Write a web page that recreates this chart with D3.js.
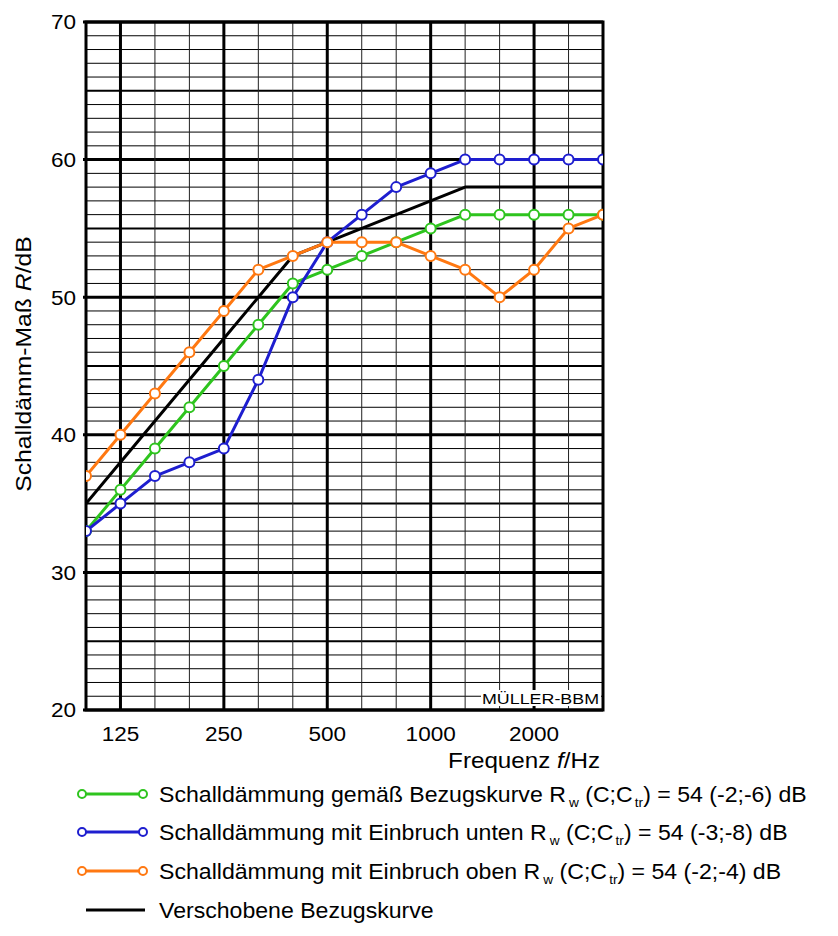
<!DOCTYPE html>
<html>
<head>
<meta charset="utf-8">
<script src="https://cdn.jsdelivr.net/npm/d3@7"></script>
<style>
  body { margin: 0; background: #fff; }
  svg { font-family: "Liberation Sans", Arial, sans-serif; }
</style>
</head>
<body>
<svg id="chart" width="838" height="936"></svg>
<script>
// third-octave band centre frequencies
var freqs = [100, 125, 160, 200, 250, 315, 400, 500, 630, 800, 1000, 1250, 1600, 2000, 2500, 3150];
var xTickLabels = [125, 250, 500, 1000, 2000];
var yTickLabels = [20, 30, 40, 50, 60, 70];

// Schalldämm-Maß in dB per band
var bezug   = [33, 36, 39, 42, 45, 48, 51, 52, 53, 54, 55, 56, 56, 56, 56, 56];
var unten   = [33, 35, 37, 38, 39, 44, 50, 54, 56, 58, 59, 60, 60, 60, 60, 60];
var oben    = [37, 40, 43, 46, 49, 52, 53, 54, 54, 54, 53, 52, 50, 52, 55, 56];
var verschoben = [35, 38, 41, 44, 47, 50, 53, 54, 55, 56, 57, 58, 58, 58, 58, 58];

var green = "#2ec41e", blue = "#1e1ecf", orange = "#ff7811";

var svg = d3.select("#chart");
var pLeft = 86, pRight = 603, pTop = 22, pBottom = 710;

var x = d3.scalePoint().domain(freqs).range([pLeft, pRight]).padding(0);
var y = d3.scaleLinear().domain([20, 70]).range([pBottom, pTop]);

svg.append("defs").append("clipPath").attr("id", "plotclip")
  .append("rect").attr("x", pLeft).attr("y", pTop)
  .attr("width", pRight - pLeft).attr("height", pBottom - pTop);

// grid
var grid = svg.append("g");
d3.range(20, 71).forEach(function(v) {
  var w = v % 10 == 0 ? 3 : (v % 5 == 0 ? 2 : 1);
  grid.append("line")
    .attr("x1", v % 10 == 0 ? pLeft - 3 : pLeft).attr("x2", pRight)
    .attr("y1", y(v)).attr("y2", y(v))
    .attr("stroke", "#000").attr("stroke-width", w);
});
freqs.forEach(function(f) {
  var thick = xTickLabels.indexOf(f) >= 0;
  grid.append("line")
    .attr("x1", x(f)).attr("x2", x(f))
    .attr("y1", pTop).attr("y2", pBottom)
    .attr("stroke", thick ? "#000" : "#222")
    .attr("stroke-width", thick ? 3 : 1);
});
grid.append("rect")
  .attr("x", pLeft).attr("y", pTop).attr("width", pRight - pLeft).attr("height", pBottom - pTop)
  .attr("fill", "none").attr("stroke", "#000").attr("stroke-width", 3);

// MÜLLER-BBM stamp
var stamp = svg.append("g");
stamp.append("rect").attr("x", 481).attr("y", 690).attr("width", 120).attr("height", 16).attr("fill", "#fff");
stamp.append("text").attr("x", 482).attr("y", 704)
  .attr("font-size", 14).attr("textLength", 117).attr("lengthAdjust", "spacingAndGlyphs")
  .text("MÜLLER-BBM");

// axis labels (reference lettering is slightly wide, hence the x-stretch)
svg.append("g").selectAll("text").data(yTickLabels).enter().append("text")
  .attr("transform", function(d) { return "translate(76," + y(d) + ") scale(1.1,1)"; })
  .attr("dy", "0.36em").attr("text-anchor", "end").attr("font-size", 20.5)
  .text(function(d) { return d; });

svg.append("g").selectAll("text").data(xTickLabels).enter().append("text")
  .attr("transform", function(d) { return "translate(" + x(d) + ",741) scale(1.1,1)"; })
  .attr("text-anchor", "middle").attr("font-size", 20.5)
  .text(function(d) { return d; });

var xl = svg.append("text").attr("transform", "translate(600,768) scale(1.1,1)")
  .attr("text-anchor", "end").attr("font-size", 22);
xl.append("tspan").text("Frequenz ");
xl.append("tspan").attr("font-style", "italic").text("f");
xl.append("tspan").text("/Hz");

var yl = svg.append("text").attr("transform", "translate(31,364) rotate(-90) scale(1.1,1)")
  .attr("text-anchor", "middle").attr("font-size", 22.5);
yl.append("tspan").text("Schalldämm-Maß ");
yl.append("tspan").attr("font-style", "italic").text("R");
yl.append("tspan").text("/dB");

// curves
var plot = svg.append("g").attr("clip-path", "url(#plotclip)");
var line = d3.line().x(function(d, i) { return x(freqs[i]); }).y(function(d) { return y(d); });

function drawSeries(vals, color, markers) {
  plot.append("path").datum(vals).attr("d", line)
    .attr("fill", "none").attr("stroke", color).attr("stroke-width", 3)
    .attr("stroke-linejoin", "round");
  if (markers) {
    plot.append("g").selectAll("circle").data(vals).enter().append("circle")
      .attr("cx", function(d, i) { return x(freqs[i]); })
      .attr("cy", function(d) { return y(d); })
      .attr("r", 5).attr("fill", "#fff").attr("stroke", color).attr("stroke-width", 2);
  }
}
drawSeries(verschoben, "#000", false);
drawSeries(bezug, green, true);
drawSeries(unten, blue, true);
drawSeries(oben, orange, true);

// legend
var legendItems = [
  {color: green, marker: true, pre: "Schalldämmung gemäß Bezugskurve R", post: ") = 54 (-2;-6) dB"},
  {color: blue, marker: true, pre: "Schalldämmung mit Einbruch unten R", post: ") = 54 (-3;-8) dB"},
  {color: orange, marker: true, pre: "Schalldämmung mit Einbruch oben R", post: ") = 54 (-2;-4) dB"},
  {color: "#000", marker: false, pre: "Verschobene Bezugskurve", post: null}
];
var legendY = [794, 832, 871, 910];
legendItems.forEach(function(it, i) {
  var g = svg.append("g").attr("transform", "translate(0," + legendY[i] + ")");
  g.append("line").attr("x1", it.marker ? 82 : 86).attr("x2", it.marker ? 143 : 145)
    .attr("y1", 0).attr("y2", 0).attr("stroke", it.color).attr("stroke-width", 3);
  if (it.marker) {
    [82, 143].forEach(function(cx) {
      g.append("circle").attr("cx", cx).attr("cy", 0).attr("r", 4)
        .attr("fill", "#fff").attr("stroke", it.color).attr("stroke-width", 2);
    });
  }
  var t = g.append("text").attr("transform", "translate(159,0) scale(1.05,1)")
    .attr("dy", "0.35em").attr("font-size", 22);
  t.append("tspan").text(it.pre);
  if (it.post) {
    t.append("tspan").attr("font-size", 13).attr("dy", 5).attr("dx", 3).text("w");
    t.append("tspan").attr("dy", -5).text(" (C;C");
    t.append("tspan").attr("font-size", 13).attr("dy", 5).attr("dx", 2).text("tr");
    t.append("tspan").attr("dy", -5).text(it.post);
  }
});
</script>
</body>
</html>
